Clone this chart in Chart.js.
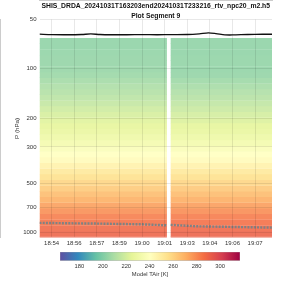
<!DOCTYPE html>
<html>
<head>
<meta charset="utf-8">
<script src="https://cdn.jsdelivr.net/npm/chart.js@4.4.1/dist/chart.umd.min.js"></script>
<style>
  html, body { margin: 0; padding: 0; background: #fff; }
  #wrap { position: relative; width: 300px; height: 300px; }
  #wrap canvas { position: absolute; left: 0; top: 0; }
</style>
</head>
<body>
<div id="wrap">
  <canvas id="myChart" width="300" height="300"></canvas>
  <canvas id="colorBar" width="300" height="300"></canvas>
</div>
<script>
const titleLines = [
  "SHIS_DRDA_20241031T163203end20241031T233216_rtv_npc20_m2.h5",
  "Plot Segment 9",
];

// pressure levels (hPa) and model air temperature (K) for each data segment
const levels = [67.6, 73.2, 79.3, 85.9, 93.0, 100.7, 109.0, 118.0, 127.8, 138.4, 149.9, 162.3, 175.8, 190.4, 206.2, 223.3, 241.9, 262.0, 283.7, 307.2, 332.7, 360.3, 390.2, 422.6, 457.7, 495.7, 536.8, 581.4, 629.7, 681.9, 738.5, 799.8, 866.1, 938.0, 1015.8, 1100.1];
const tempLeft = [203, 203, 203.5, 204, 204, 204.5, 205.5, 207.5, 209.5, 211, 213, 215.5, 218, 220.5, 223, 225, 227, 229.5, 233, 237, 240, 242.5, 247, 251.5, 255.5, 259.5, 263, 267, 271, 275, 279, 283, 286, 288.5, 290, 291];
const tempRight = [203, 203, 203, 203.5, 203.5, 203.5, 204, 206, 208, 210, 212, 214.5, 217, 219.5, 222, 224.5, 226.5, 229, 232.5, 236.5, 240, 242.5, 247, 251.5, 255.5, 259.5, 263.5, 267.5, 271.5, 275.5, 279.5, 283.5, 286.5, 289, 290.5, 291.5];

// time in minutes after 18:00
const segments = [[53.2, 61.65], [61.9, 68.62]];

const topLineTime = [53.2, 54, 55, 56, 56.6, 57.2, 58, 59, 60, 61, 62, 63, 63.8, 64.4, 64.9, 65.5, 66, 67, 68, 68.62];
const topLinePres = [61.5, 61.9, 62.0, 61.8, 61.3, 61.8, 62.0, 62.0, 61.9, 62.0, 61.9, 61.8, 61.2, 60.4, 61.0, 62.1, 62.2, 61.8, 61.6, 61.6];

const surfTime = [53.2, 55, 57, 60, 61.65, 61.8, 61.9, 63.6, 65.8, 68.62];
const surfPres = [871, 876, 880, 889, 902, null, 896, 914, 922, 931];

const xTicks = [54, 55.5, 57, 58.5, 60, 61.5, 63, 64.5, 66, 67.5];
const xLabels = ["18:54", "18:56", "18:57", "18:59", "19:00", "19:01", "19:03", "19:04", "19:06", "19:07"];
const yTicks = [50, 100, 200, 300, 500, 700, 1000];
const cbTicks = [180, 200, 220, 240, 260, 280, 300];
const tMin = 163.5;
const tMax = 317;

const spectral = ["#5e4fa2", "#3288bd", "#66c2a5", "#abdda4", "#e6f598", "#ffffbf", "#fee08b", "#fdae61", "#f46d43", "#d53e4f", "#9e0142"];
const font = "'Liberation Sans', Arial, sans-serif";

function hexToRgb(h) {
  return [1, 3, 5].map((i) => parseInt(h.slice(i, i + 2), 16));
}

function tempColor(t, alpha) {
  let s = (t - tMin) / (tMax - tMin);
  s = Math.max(0, Math.min(1, s)) * (spectral.length - 1);
  const i = Math.min(Math.floor(s), spectral.length - 2);
  const f = s - i;
  const a = hexToRgb(spectral[i]);
  const b = hexToRgb(spectral[i + 1]);
  const rgb = a.map((v, k) => (v + (b[k] - v) * f) * alpha + 255 * (1 - alpha));
  return `rgb(${rgb.map(Math.round).join(",")})`;
}

function createHeatmapData() {
  return levels.map((p, i) => ({
    type: "bar",
    indexAxis: "y",
    grouped: false,
    order: 2,
    barPercentage: 1.06,
    categoryPercentage: 1,
    borderWidth: 0,
    data: segments.map((seg) => ({ y: p, x: seg })),
    backgroundColor: [tempColor(tempLeft[i], 0.88), tempColor(tempRight[i], 0.88)],
  }));
}

const datasets = [
  {
    type: "line",
    indexAxis: "x",
    order: 0,
    data: topLineTime.map((t, i) => ({ x: t, y: topLinePres[i] })),
    borderColor: "#111",
    borderWidth: 1.3,
    pointRadius: 0,
    tension: 0.3,
  },
  {
    type: "line",
    indexAxis: "x",
    order: 1,
    data: surfTime.map((t, i) => ({ x: t, y: surfPres[i] })),
    borderColor: "#7f8284",
    borderWidth: 2.4,
    borderDash: [2, 1.2],
    pointRadius: 0,
    spanGaps: false,
  },
  ...createHeatmapData(),
];

const gridColor = "rgba(0,0,0,0.09)";

new Chart(document.getElementById("myChart"), {
  type: "bar",
  data: { datasets },
  options: {
    responsive: false,
    animation: false,
    devicePixelRatio: 1,
    layout: { padding: { left: 0, right: 28, top: 0, bottom: 51.3 } },
    plugins: {
      legend: { display: false },
      tooltip: { enabled: false },
      title: {
        display: true,
        text: titleLines,
        fullSize: false,
        color: "#111",
        font: { family: font, size: 6.8, weight: "bold", lineHeight: 1.45 },
        padding: { top: 1, bottom: -1.3 },
      },
    },
    scales: {
      x: {
        type: "linear",
        offset: false,
        min: segments[0][0],
        max: segments[1][1],
        grid: { color: gridColor, z: 1, drawTicks: false, offset: false },
        border: { color: "#999" },
        afterBuildTicks: (scale) => {
          scale.ticks = xTicks.map((v) => ({ value: v }));
        },
        ticks: {
          autoSkip: false,
          maxRotation: 0,
          padding: 2,
          color: "#333",
          font: { family: font, size: 6 },
          callback: (v, i) => xLabels[i],
        },
      },
      y: {
        type: "logarithmic",
        offset: false,
        reverse: true,
        min: 50,
        max: 1070,
        grid: { color: gridColor, z: 1, drawTicks: false, offset: false },
        border: { color: "#999" },
        afterFit: (scale) => {
          scale.width = 39.5;
        },
        afterBuildTicks: (scale) => {
          scale.ticks = yTicks.map((v) => ({ value: v }));
        },
        ticks: {
          padding: 3,
          color: "#333",
          font: { family: font, size: 6 },
          callback: (v) => String(v),
        },
        title: {
          display: true,
          text: "P (hPa)",
          color: "#333",
          font: { family: font, size: 6.2 },
          padding: { top: 14, bottom: 0 },
        },
      },
    },
  },
});

new Chart(document.getElementById("colorBar"), {
  type: "bar",
  data: {
    labels: ["cb"],
    datasets: [
      {
        data: [[tMin, tMax]],
        borderWidth: 0.6,
        borderColor: "#aaa",
        borderSkipped: false,
        barPercentage: 1,
        categoryPercentage: 1,
        backgroundColor: (ctx) => {
          const chart = ctx.chart;
          const xScale = chart.scales.x;
          if (!chart.chartArea || !xScale) return spectral[5];
          const g = chart.ctx.createLinearGradient(xScale.getPixelForValue(tMin), 0, xScale.getPixelForValue(tMax), 0);
          spectral.forEach((c, i) => g.addColorStop(i / (spectral.length - 1), c));
          return g;
        },
      },
    ],
  },
  options: {
    indexAxis: "y",
    responsive: false,
    animation: false,
    devicePixelRatio: 1,
    layout: { padding: { left: 60, right: 60, top: 252, bottom: 22.3 } },
    plugins: {
      legend: { display: false },
      tooltip: { enabled: false },
      title: {
        display: true,
        position: "bottom",
        fullSize: false,
        text: "Model TAir [K]",
        color: "#333",
        font: { family: font, size: 5.8, weight: "normal", lineHeight: 1.2 },
        padding: { top: -1, bottom: 0 },
      },
    },
    scales: {
      x: {
        type: "linear",
        offset: false,
        min: tMin,
        max: tMax,
        grid: { display: false, drawTicks: false },
        border: { display: false },
        afterBuildTicks: (scale) => {
          scale.ticks = cbTicks.map((v) => ({ value: v }));
        },
        ticks: {
          padding: 2,
          color: "#333",
          font: { family: font, size: 5.8 },
          callback: (v) => String(v),
        },
      },
      y: { display: false },
    },
  },
});
</script>
</body>
</html>
